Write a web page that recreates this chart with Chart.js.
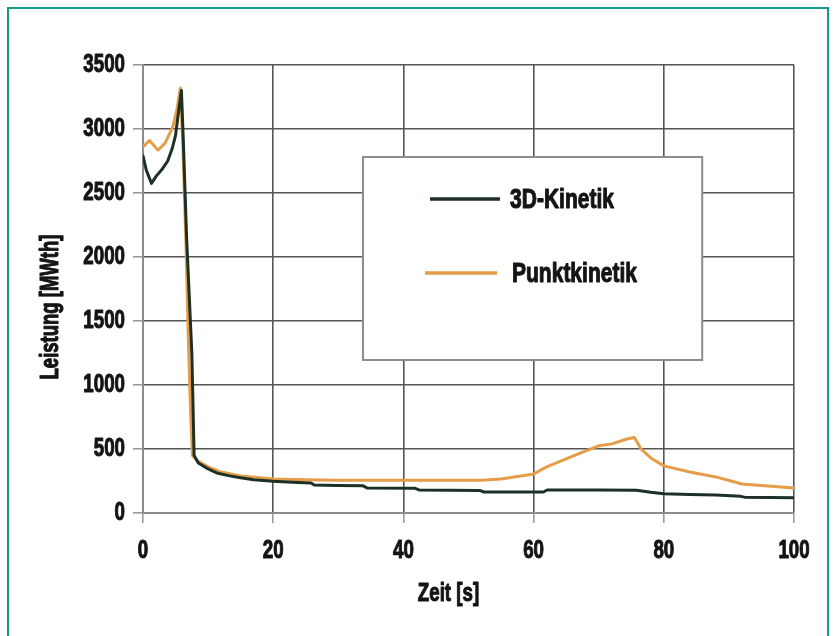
<!DOCTYPE html>
<html>
<head>
<meta charset="utf-8">
<script src="https://cdn.jsdelivr.net/npm/chart.js@4"></script>
<style>
  html, body { margin: 0; padding: 0; background: #fff; }
  #wrap { position: relative; width: 834px; height: 636px; overflow: hidden; }
  #frame { position: absolute; left: 7px; top: 7px; width: 822px; height: 700px;
           box-sizing: border-box; border: 2px solid #17998a; pointer-events: none; }
  canvas { position: absolute; left: 0; top: 0; }
</style>
</head>
<body>
<div id="wrap">
  <canvas id="leistungChart" width="834" height="636"></canvas>
  <div id="frame"></div>
</div>
<script>
const seriesNames = ["3D-Kinetik", "Punktkinetik"];
const xTitle = "Zeit [s]";
const yTitle = "Leistung [MWth]";

// 3D-Kinetik: Zeit [s] / Leistung [MWth]
const zeit3D = [0, 0.5, 1.3, 2, 3, 3.8, 4.5, 5, 5.5, 5.9, 6.2, 6.7, 7.1, 7.5, 7.7, 7.85, 8.5, 10, 11.5, 13.3, 15, 17, 20, 23, 25.8, 26.3, 30, 33.8, 34.4, 41.8, 42.4, 51.8, 52.4, 61.5, 62.1, 70, 75.8, 78, 80, 84, 88, 91.8, 92.4, 100];
const leistung3D = [2790, 2680, 2575, 2630, 2690, 2750, 2850, 2950, 3150, 3300, 2900, 2150, 1700, 1250, 800, 450, 390, 345, 310, 290, 275, 260, 248, 240, 235, 219, 215, 212, 196, 193, 180, 175, 164, 164, 180, 180, 178, 162, 150, 144, 140, 130, 124, 120];

// Punktkinetik
const zeitPunkt = [0, 1, 2.3, 3.4, 3.9, 4.6, 5.2, 5.75, 6.1, 6.6, 7.0, 7.3, 7.6, 8.3, 10, 12, 15, 18, 20, 25, 30, 40, 52, 55, 60, 62, 65, 68, 70, 72, 74.5, 75.5, 76.5, 78, 80, 84, 88, 92, 96, 100];
const leistungPunkt = [2860, 2910, 2835, 2890, 2945, 3020, 3150, 3320, 2900, 2100, 1300, 800, 450, 410, 360, 320, 290, 275, 266, 260, 256, 255, 255, 266, 305, 360, 422, 485, 525, 540, 580, 590, 500, 430, 368, 320, 282, 227, 211, 196];

const xTicks = [0, 20, 40, 60, 80, 100];
const yTicks = [0, 500, 1000, 1500, 2000, 2500, 3000, 3500];

const farben = ["#1c3024", "#e59d4a"];
const schrift = "'Liberation Sans', Arial, sans-serif";

const toPoints = (xs, ys) => xs.map((x, i) => ({ x: x, y: ys[i] }));

// schmale, fette Schrift: Liberation Sans Bold horizontal gestaucht
function schmalText(ctx, text, x, y, size, align, scaleX, rot) {
  ctx.save();
  ctx.translate(x, y);
  if (rot) ctx.rotate(rot);
  ctx.scale(scaleX, 1);
  ctx.font = "bold " + size + "px " + schrift;
  ctx.fillStyle = "#141414";
  ctx.strokeStyle = "#141414";
  ctx.lineWidth = 1.1;
  ctx.lineJoin = "round";
  ctx.textAlign = align;
  ctx.textBaseline = "middle";
  ctx.fillText(text, 0, 0);
  ctx.strokeText(text, 0, 0);
  ctx.restore();
}

// Achsenbeschriftung
const achsenText = {
  id: "achsenText",
  afterDraw(chart) {
    const { ctx, chartArea: a, scales } = chart;
    scales.x.ticks.forEach((t) => {
      schmalText(ctx, String(t.value), scales.x.getPixelForValue(t.value), a.bottom + 38, 26, "center", 0.72);
    });
    scales.y.ticks.forEach((t) => {
      schmalText(ctx, String(t.value), a.left - 18, scales.y.getPixelForValue(t.value), 26, "right", 0.72);
    });
    schmalText(ctx, xTitle, (a.left + a.right) / 2 - 20, a.bottom + 81, 26, "center", 0.72);
    schmalText(ctx, yTitle, 51, (a.top + a.bottom) / 2 + 18, 25, "center", 0.74, -Math.PI / 2);
  }
};

// Legendenkasten im Diagramm
const legendBox = {
  id: "legendBox",
  afterDatasetsDraw(chart) {
    const { ctx, chartArea: a } = chart;
    const w = a.right - a.left, h = a.bottom - a.top;
    const left = a.left + w * 0.338, right = a.left + w * 0.859;
    const top = a.top + h * 0.2054, bottom = a.top + h * 0.6585;
    ctx.save();
    ctx.fillStyle = "#fff";
    ctx.fillRect(left, top, right - left, bottom - top);
    ctx.strokeStyle = "#8c8c8c";
    ctx.lineWidth = 2;
    ctx.strokeRect(left, top, right - left, bottom - top);
    const rows = [
      { y: top + 42, x0: left + 67, x1: left + 137, tx: left + 147 },
      { y: top + 116, x0: left + 62, x1: left + 134, tx: left + 149 }
    ];
    rows.forEach((r, i) => {
      ctx.strokeStyle = farben[i];
      ctx.lineWidth = 3.5;
      ctx.beginPath();
      ctx.moveTo(r.x0, r.y);
      ctx.lineTo(r.x1, r.y);
      ctx.stroke();
    });
    ctx.restore();
    rows.forEach((r, i) => schmalText(ctx, seriesNames[i], r.tx, r.y + 1, 28, "left", 0.75));
  }
};

const ctx = document.getElementById("leistungChart");
new Chart(ctx, {
  type: "line",
  data: {
    datasets: [
      { label: seriesNames[0], data: toPoints(zeit3D, leistung3D), borderColor: farben[0], borderWidth: 3, pointRadius: 0, tension: 0, borderJoinStyle: "round", borderCapStyle: "round" },
      { label: seriesNames[1], data: toPoints(zeitPunkt, leistungPunkt), borderColor: farben[1], borderWidth: 3, pointRadius: 0, tension: 0, borderJoinStyle: "round", borderCapStyle: "round" }
    ]
  },
  options: {
    responsive: false,
    animation: false,
    events: [],
    layout: { padding: { left: 0, top: 65, right: 40, bottom: 0 } },
    plugins: { legend: { display: false }, tooltip: { enabled: false } },
    scales: {
      x: {
        type: "linear",
        min: 0,
        max: 100,
        afterBuildTicks: (s) => { s.ticks = xTicks.map((v) => ({ value: v })); },
        afterFit: (s) => { s.height = 123; },
        ticks: { display: false },
        grid: { color: "#555", lineWidth: 1.6, tickLength: 10, tickColor: "#9a9a9a" },
        border: { color: "#8c8c8c", width: 2 }
      },
      y: {
        min: 0,
        max: 3500,
        afterBuildTicks: (s) => { s.ticks = yTicks.map((v) => ({ value: v })); },
        afterFit: (s) => { s.width = 143; },
        ticks: { display: false },
        grid: { color: "#555", lineWidth: 1.6, tickLength: 10, tickColor: "#9a9a9a" },
        border: { color: "#8c8c8c", width: 2 }
      }
    }
  },
  plugins: [legendBox, achsenText]
});
</script>
</body>
</html>
